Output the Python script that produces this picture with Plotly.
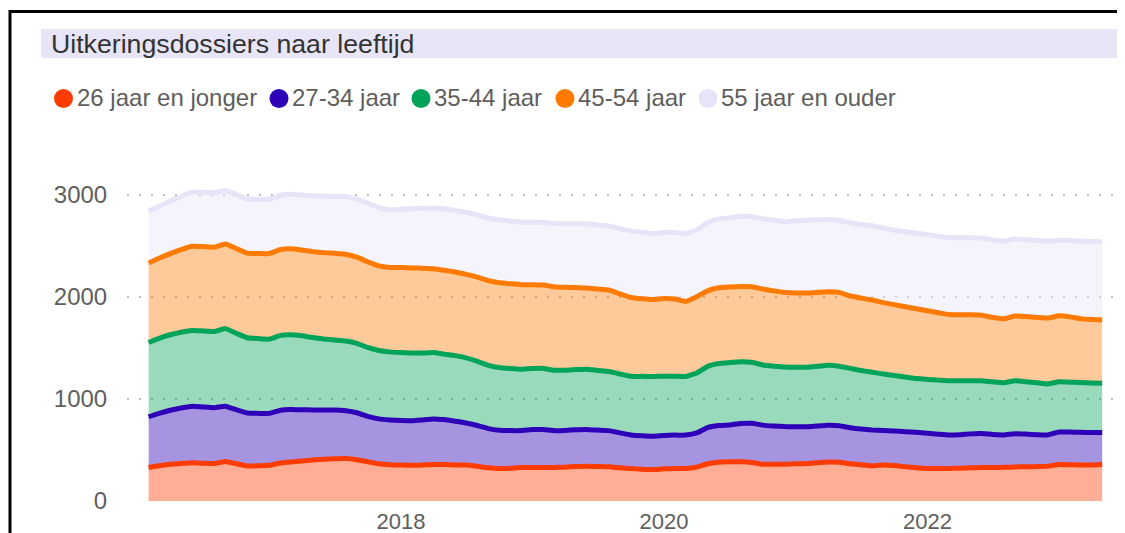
import datetime as dt
import plotly.graph_objects as go

# ---------------- data ----------------
start_month = (2016, 2)
n_months = 88
months = []
y0, m0 = start_month
for i in range(n_months):
    yy = y0 + (m0 - 1 + i) // 12
    mm = (m0 - 1 + i) % 12 + 1
    months.append(dt.date(yy, mm, 1))

series_names = ["26 jaar en jonger", "27-34 jaar", "35-44 jaar", "45-54 jaar", "55 jaar en ouder"]

age_26_min = [328, 345, 360, 368, 374, 370, 367, 388, 365, 343, 345, 350, 372, 382, 392, 403, 410, 414, 416,
              405, 385, 365, 355, 352, 350, 353, 358, 357, 354, 352, 340, 325, 318, 322, 328, 328, 328, 328, 332,
              338, 341, 338, 335, 325, 318, 312, 308, 315, 318, 318, 332, 365, 380, 384, 384, 378, 361, 361, 361,
              365, 367, 375, 382, 380, 365, 355, 345, 353, 348, 335, 325, 318, 318, 318, 322, 326, 328, 328,
              330, 334, 336, 338, 342, 358, 356, 352, 354, 357]
age_27_34 = [498, 515, 530, 544, 556, 552, 548, 542, 530, 519, 514, 509, 518, 516, 503, 489, 482, 478, 469,
             460, 445, 440, 440, 438, 437, 442, 447, 441, 428, 413, 400, 385, 376, 368, 362, 372, 372, 362, 360,
             360, 361, 357, 355, 343, 330, 328, 328, 328, 328, 328, 335, 355, 360, 362, 376, 384, 383, 374, 369,
             363, 361, 360, 360, 358, 353, 350, 352, 339, 338, 345, 349, 347, 337, 329, 328, 332, 334, 324,
             318, 326, 320, 312, 306, 318, 320, 321, 318, 315]
age_35_44 = [728, 735, 740, 743, 742, 745, 747, 760, 750, 738, 733, 728, 734, 732, 725, 711, 696, 686, 683,
             680, 675, 670, 667, 665, 663, 655, 650, 642, 643, 638, 630, 620, 614, 608, 602, 600, 600, 592, 591,
             590, 590, 585, 580, 577, 574, 582, 584, 581, 578, 574, 588, 600, 608, 611, 604, 598, 590, 587, 583,
             583, 583, 585, 588, 584, 582, 575, 565, 553, 544, 535, 526, 527, 530, 531, 530, 522, 516, 516,
             512, 518, 514, 510, 500, 492, 489, 489, 485, 482]
age_45_54 = [780, 785, 795, 810, 826, 827, 827, 830, 830, 830, 834, 839, 841, 842, 840, 842, 847, 850, 852,
             845, 840, 830, 828, 833, 835, 832, 822, 822, 820, 819, 825, 830, 832, 832, 829, 821, 818, 818, 813,
             804, 797, 798, 798, 785, 773, 760, 755, 762, 756, 737, 748, 740, 742, 741, 739, 740, 745, 738, 732,
             728, 728, 725, 722, 723, 710, 710, 708, 700, 695, 690, 685, 673, 660, 650, 646, 646, 644, 632,
             626, 636, 638, 640, 645, 647, 640, 626, 623, 623]
age_55_plus = [509, 510, 515, 520, 532, 533, 534, 525, 530, 530, 531, 531, 533, 535, 539, 547, 553, 557, 564,
               570, 575, 570, 565, 572, 580, 586, 595, 603, 603, 608, 610, 615, 618, 615, 613, 613, 614, 620, 622,
               626, 629, 627, 629, 640, 653, 653, 648, 646, 652, 666, 655, 670, 675, 680, 685, 690, 688, 692, 693,
               711, 715, 712, 708, 707, 718, 720, 728, 730, 730, 735, 740, 745, 750, 754, 754, 754, 754, 760,
               764, 754, 754, 755, 755, 741, 748, 761, 765, 764]

series_values = [age_26_min, age_27_34, age_35_44, age_45_54, age_55_plus]

y_tick_values = [0, 1000, 2000, 3000]
x_tick_dates = ["2018-01-01", "2020-01-01", "2022-01-01"]
x_tick_labels = ["2018", "2020", "2022"]

title_text = "Uitkeringsdossiers naar leeftijd"

# ---------------- style ----------------
line_colors = ["#FF3C00", "#2E00B8", "#00A35A", "#FF7A00", "#E8E4F7"]
fill_colors = ["rgba(255,60,0,0.42)", "rgba(46,0,184,0.42)", "rgba(0,163,90,0.40)",
               "rgba(255,122,0,0.40)", "rgba(232,228,247,0.45)"]

OFF = 8  # default page margin around the figure
W, H = 1140, 533
# plot area in screen pixels
P_LEFT, P_RIGHT, P_TOP, P_BOTTOM = 127, 1113, 165, 501
ML = P_LEFT - OFF
MR = W - (P_RIGHT - OFF)
MT = P_TOP - OFF
MB = H - (P_BOTTOM - OFF)
PW = W - ML - MR
PH = H - MT - MB

# axis calibration (screen pixels)
px_per_unit = 0.102
y_top = PH / px_per_unit
ref_date = dt.date(2018, 1, 1)
ref_px = 401
px_per_day = 131.6 / 365.25
x_start = ref_date - dt.timedelta(days=(ref_px - P_LEFT) / px_per_day)
x_end = ref_date + dt.timedelta(days=(P_RIGHT - ref_px) / px_per_day)


def fx(px):
    return (px - P_LEFT) / PW


def fy(py):
    return (P_BOTTOM - py) / PH


fig = go.Figure()
for name, vals, lc, fc in zip(series_names, series_values, line_colors, fill_colors):
    fig.add_trace(go.Scatter(
        x=months, y=vals, name=name, mode="lines", stackgroup="one",
        line=dict(color=lc, width=5, shape="spline", smoothing=0.4),
        fillcolor=fc, showlegend=False, hoverinfo="x+y+name",
    ))

font_family = "Liberation Sans, Arial, sans-serif"
shapes = []
annotations = []

# outer frame
shapes.append(dict(type="line", xref="paper", yref="paper", x0=fx(9), x1=fx(W + 20), y0=fy(7), y1=fy(7),
                   line=dict(color="#C8C8C8", width=1)))
shapes.append(dict(type="line", xref="paper", yref="paper", x0=fx(10), x1=fx(W + 20), y0=fy(11.5), y1=fy(11.5),
                   line=dict(color="black", width=3)))
shapes.append(dict(type="line", xref="paper", yref="paper", x0=fx(10), x1=fx(10), y0=fy(10), y1=fy(H + 20),
                   line=dict(color="black", width=3)))
# title bar
shapes.append(dict(type="rect", xref="paper", yref="paper", x0=fx(41), x1=fx(W + 20), y0=fy(58), y1=fy(29),
                   fillcolor="#E8E5F6", line=dict(width=0), layer="below"))
annotations.append(dict(text=title_text, xref="paper", yref="paper", x=fx(49), y=fy(44),
                        xanchor="left", yanchor="middle", showarrow=False,
                        font=dict(family=font_family, size=26.7, color="#333333")))

# legend (circle + label)
legend_marker_px = [63.5, 279, 421, 565, 708]
for name, lc, mx in zip(series_names, line_colors, legend_marker_px):
    shapes.append(dict(type="circle", xref="paper", yref="paper", xsizemode="pixel", ysizemode="pixel",
                       xanchor=fx(mx), yanchor=fy(98.5), x0=-9.5, x1=9.5, y0=-9.5, y1=9.5,
                       fillcolor=lc, line=dict(width=0)))
    annotations.append(dict(text=name, xref="paper", yref="paper", x=fx(mx + 11), y=fy(97.5),
                            xanchor="left", yanchor="middle", showarrow=False,
                            font=dict(family=font_family, size=24, color="#605E5C")))

fig.update_layout(
    width=W, height=H,
    margin=dict(l=ML, r=MR, t=MT, b=MB, pad=0, autoexpand=False),
    paper_bgcolor="white", plot_bgcolor="white",
    showlegend=False,
    shapes=shapes, annotations=annotations,
    xaxis=dict(type="date", range=[x_start, x_end], showgrid=False, zeroline=False, showline=False,
               automargin=False, tickvals=x_tick_dates, ticktext=x_tick_labels,
               ticks="outside", ticklen=1, tickcolor="rgba(0,0,0,0)",
               tickfont=dict(family=font_family, size=22, color="#605E5C")),
    yaxis=dict(range=[0, y_top], tickvals=y_tick_values, showgrid=True, gridcolor="#BDBDBD",
               griddash="2px,10px", gridwidth=1.5, zeroline=False, showline=False, automargin=False,
               ticks="outside", ticklen=14, tickcolor="rgba(0,0,0,0)",
               tickfont=dict(family=font_family, size=24, color="#605E5C")),
)

fig.write_html("out.html")
